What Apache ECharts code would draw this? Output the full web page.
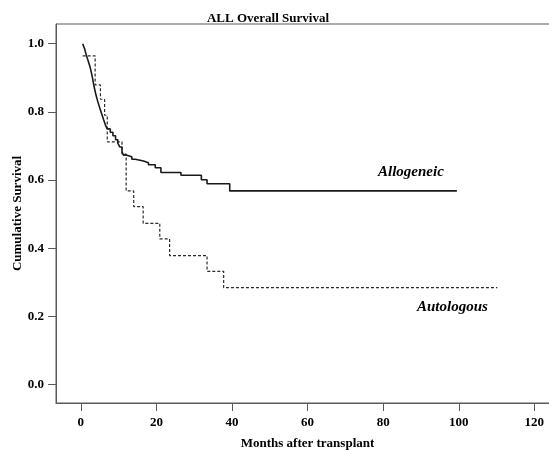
<!DOCTYPE html>
<html>
<head>
<meta charset="utf-8">
<title>ALL Overall Survival</title>
<script src="https://cdn.jsdelivr.net/npm/echarts@6/dist/echarts.min.js"></script>
<style>
  html, body { margin: 0; padding: 0; background: #fff; }
  #chart { width: 549px; height: 450px; }
</style>
</head>
<body>
<div id="chart"></div>
<script>
// Kaplan-Meier steps: month of event, survival after it
const alloMonths = [0.5, 1.0, 1.5, 2.0, 2.5, 3.0, 3.5, 4.0, 4.5, 5.0, 5.5, 6.0, 6.5, 7.0, 7.8, 8.5, 9.2, 9.8, 10.3, 10.9, 11.3, 12.2, 13.5, 14.4, 16.6, 17.9, 19.7, 21.2, 26.5, 31.9, 33.4, 39.4, 99.5]
const alloSurv = [1.0, 0.985, 0.965, 0.948, 0.93, 0.905, 0.875, 0.85, 0.83, 0.812, 0.795, 0.778, 0.762, 0.75, 0.74, 0.73, 0.718, 0.708, 0.697, 0.683, 0.673, 0.668, 0.661, 0.656, 0.651, 0.645, 0.636, 0.622, 0.614, 0.601, 0.589, 0.568, 0.568]

const autoMonths = [0.5, 3.8, 5.2, 6.3, 7.0, 10.9, 12.0, 14.0, 16.5, 20.9, 23.5, 33.4, 37.8, 110.2]
const autoSurv = [0.964, 0.879, 0.837, 0.79, 0.712, 0.676, 0.568, 0.522, 0.473, 0.427, 0.378, 0.332, 0.284, 0.284]

const xTicks = [0, 20, 40, 60, 80, 100, 120]
const yTicks = [0.0, 0.2, 0.4, 0.6, 0.8, 1.0]

const serif = '"Liberation Serif", "DejaVu Serif", serif'
const axisColor = '#5a5a5a'

function pairs(xs, ys) {
  const out = []
  for (let i = 0; i < xs.length; i++) {
    out.push([xs[i], ys[i]])
  }
  return out
}

const chart = echarts.init(document.getElementById('chart'), null, { renderer: 'canvas' })

chart.setOption({
  backgroundColor: '#fff',
  animation: false,
  title: {
    text: 'ALL Overall Survival',
    left: 263,
    top: 7,
    textAlign: 'center',
    textStyle: {
      fontFamily: serif,
      fontSize: 13,
      fontWeight: 'bold',
      color: '#000'
    }
  },
  grid: {
    left: 56,
    right: -1,
    top: 24,
    bottom: 47,
    containLabel: false,
    outerBoundsMode: 'none',
    show: true,
    borderColor: axisColor,
    borderWidth: 1
  },
  xAxis: {
    type: 'value',
    min: -6.56,
    max: 124.14,
    name: 'Months after transplant',
    nameLocation: 'middle',
    nameGap: 34,
    nameMoveOverlap: false,
    nameTextStyle: {
      fontFamily: serif,
      fontSize: 13,
      fontWeight: 'bold',
      color: '#000',
      padding: [0, 0, 0, 9]
    },
    axisLine: { show: true, onZero: false, lineStyle: { color: axisColor, width: 1 } },
    axisTick: { show: true, length: 8, customValues: xTicks, lineStyle: { color: axisColor } },
    axisLabel: {
      customValues: xTicks,
      margin: 13,
      fontFamily: serif,
      fontSize: 13,
      fontWeight: 'bold',
      color: '#000'
    },
    splitLine: { show: false }
  },
  yAxis: {
    type: 'value',
    min: -0.0543,
    max: 1.0578,
    name: 'Cumulative Survival',
    nameLocation: 'middle',
    nameGap: 32,
    nameMoveOverlap: false,
    nameTextStyle: {
      fontFamily: serif,
      fontSize: 13,
      fontWeight: 'bold',
      color: '#000'
    },
    axisLine: { show: true, onZero: false, lineStyle: { color: axisColor, width: 1 } },
    axisTick: { show: true, length: 8, customValues: yTicks, lineStyle: { color: axisColor } },
    axisLabel: {
      customValues: yTicks,
      margin: 12,
      fontFamily: serif,
      fontSize: 13,
      fontWeight: 'bold',
      color: '#000',
      formatter: v => v.toFixed(1)
    },
    splitLine: { show: false }
  },
  series: [
    {
      name: 'Autologous',
      type: 'line',
      step: 'end',
      data: pairs(autoMonths, autoSurv),
      showSymbol: false,
      symbol: 'none',
      lineStyle: { color: '#2a2a2a', width: 1.2, type: [3, 2] }
    },
    {
      name: 'Allogeneic',
      type: 'line',
      step: 'end',
      data: pairs(alloMonths, alloSurv),
      showSymbol: false,
      symbol: 'none',
      lineStyle: { color: '#1a1a1a', width: 1.6 }
    }
  ],
  graphic: [
    {
      type: 'text',
      x: 378,
      y: 172,
      style: {
        text: 'Allogeneic',
        font: 'italic bold 15px ' + serif,
        fill: '#000',
        verticalAlign: 'middle'
      }
    },
    {
      type: 'text',
      x: 417,
      y: 307,
      style: {
        text: 'Autologous',
        font: 'italic bold 15px ' + serif,
        fill: '#000',
        verticalAlign: 'middle'
      }
    }
  ]
})
</script>
</body>
</html>
